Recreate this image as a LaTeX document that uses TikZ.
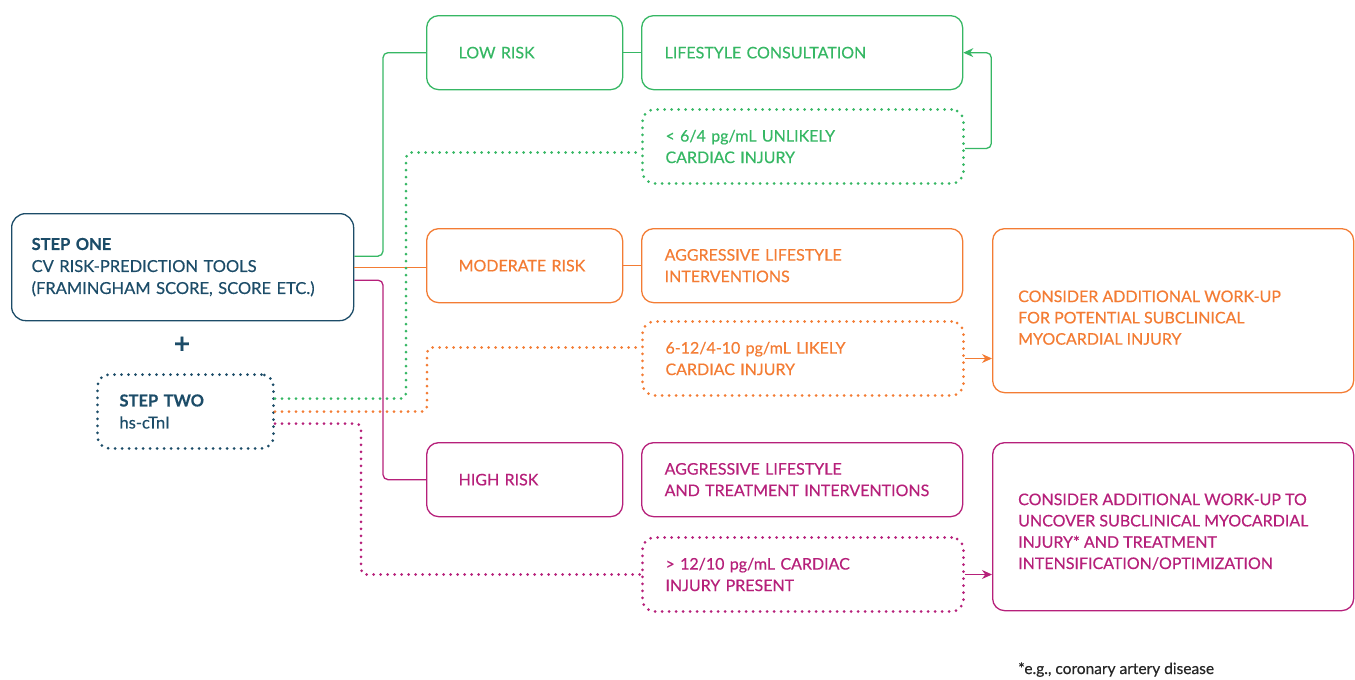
\documentclass[tikz,border=0pt]{standalone}
\usepackage{fontspec}
\setmainfont{Lato}[FakeBold=0.45]
\usetikzlibrary{arrows.meta,positioning,calc}
\definecolor{cvteal}{RGB}{28,76,104}
\definecolor{cvgreen}{RGB}{54,183,100}
\definecolor{cvorange}{RGB}{243,124,52}
\definecolor{cvmagenta}{RGB}{182,32,122}
\tikzset{
  box/.style={draw, rounded corners=12pt, line width=1.3pt, anchor=north west,
    align=left, font=\fontsize{16}{21.5}\selectfont},
  dotline/.style={line width=3pt, dash pattern=on 0pt off 7pt, line cap=round},
  riskbox/.style={box, minimum height=74pt, text width=132pt, inner xsep=32pt},
  actbox/.style={box, minimum height=74pt, text width=275pt, inner xsep=23pt},
  workbox/.style={box, minimum width=361pt},
  worktext/.style={anchor=west, align=left, inner sep=0pt, font=\fontsize{16}{21.3}\selectfont},
  link/.style={line width=1.3pt, rounded corners=5pt},
  dlink/.style={dotline, rounded corners=5pt},
  arr/.style={-{Stealth[length=10pt,width=9pt]}, line width=1.3pt, rounded corners=5pt}
}

\begin{document}
\begin{tikzpicture}[x=1pt,y=-1pt]
  \useasboundingbox (0,0) rectangle (1355,680);

  % steps
  \node[box, color=cvteal, rounded corners=14pt, text width=302pt, inner xsep=20pt,
    minimum height=107pt, font=\fontsize{16.5}{22}\selectfont] (stepone) at (11,213)
    {\textbf{STEP ONE}\\CV RISK-PREDICTION TOOLS\\(FRAMINGHAM SCORE, SCORE ETC.)};
  \node[text=cvteal, font=\fontsize{28}{28}\selectfont\bfseries] (plus) at (182,345) {+};
  \node[box, dotline, color=cvteal, text width=132pt, inner xsep=22pt,
    minimum height=74pt, font=\fontsize{16.5}{22}\selectfont] (steptwo) at (96,373)
    {\textbf{STEP TWO}\\hs-cTnI};

  % low risk
  \node[riskbox, color=cvgreen] (low) at (426,15) {LOW RISK};
  \node[actbox, color=cvgreen] (lifestyle) at (641,15) {LIFESTYLE CONSULTATION};
  \node[actbox, dotline, color=cvgreen] (unlikely) at (641,108)
    {< 6/4 pg/mL UNLIKELY\\CARDIAC INJURY};

  % moderate risk
  \node[riskbox, color=cvorange] (moderate) at (426,228) {MODERATE RISK};
  \node[actbox, color=cvorange] (aggressive) at (641,228)
    {AGGRESSIVE LIFESTYLE\\INTERVENTIONS};
  \node[actbox, dotline, color=cvorange] (likely) at (641,320)
    {6-12/4-10 pg/mL LIKELY\\CARDIAC INJURY};
  \node[workbox, color=cvorange, minimum height=164pt] (workup) at (992,228) {};
  \node[worktext, text=cvorange] (workuptext) at ([xshift=26pt,yshift=-7pt]workup.west)
    {CONSIDER ADDITIONAL WORK-UP\\FOR POTENTIAL SUBCLINICAL\\MYOCARDIAL INJURY};

  % high risk
  \node[riskbox, color=cvmagenta] (high) at (426,442) {HIGH RISK};
  \node[actbox, color=cvmagenta] (treatment) at (641,442)
    {AGGRESSIVE LIFESTYLE\\AND TREATMENT INTERVENTIONS};
  \node[actbox, dotline, color=cvmagenta] (present) at (641,536)
    {> 12/10 pg/mL CARDIAC\\INJURY PRESENT};
  \node[workbox, color=cvmagenta, minimum height=168pt] (intens) at (992,442) {};
  \node[worktext, text=cvmagenta] (intenstext) at ([xshift=26pt,yshift=-5pt]intens.west)
    {CONSIDER ADDITIONAL WORK-UP TO\\UNCOVER SUBCLINICAL MYOCARDIAL\\INJURY* AND TREATMENT\\INTENSIFICATION/OPTIMIZATION};

  \node[anchor=base west, inner sep=0pt, text=black!85, font=\fontsize{15.5}{17}\selectfont] (note) at (1018,674)
    {*e.g., coronary artery disease};

  % step one to risk levels
  \draw[link, cvgreen] ([yshift=11pt]stepone.east) -| ([xshift=-43pt]low.west) -- (low.west);
  \draw[link, cvorange] (stepone.east) -- (stepone.east -| moderate.west);
  \draw[link, cvmagenta] ([yshift=-13pt]stepone.east) -| ([xshift=-43pt]high.west) -- (high.west);
  \draw[link, cvgreen] (low) -- (lifestyle);
  \draw[link, cvorange] (moderate.east) -- (moderate.east -| aggressive.west);

  % step two to hs-cTnI levels
  \draw[dlink, cvgreen] ([yshift=13pt]steptwo.east) -| ([xshift=-235pt,yshift=-6pt]unlikely.west)
    -- ([yshift=-6pt]unlikely.west);
  \draw[dlink, cvorange] (steptwo.east) -| ([xshift=-214pt,yshift=11pt]likely.west)
    -- ([yshift=11pt]likely.west);
  \draw[dlink, cvmagenta] ([yshift=-12pt]steptwo.east) -| ([xshift=-280pt]present.west)
    -- (present.west);

  % outcomes
  \draw[arr, cvgreen] ([yshift=-2pt]unlikely.east) -| ([xshift=28pt]lifestyle.east) -- (lifestyle.east);
  \draw[arr, cvorange] (likely.east) -- (likely.east -| workup.west);
  \draw[arr, cvmagenta] (present.east) -- (present.east -| intens.west);
\end{tikzpicture}
\end{document}
